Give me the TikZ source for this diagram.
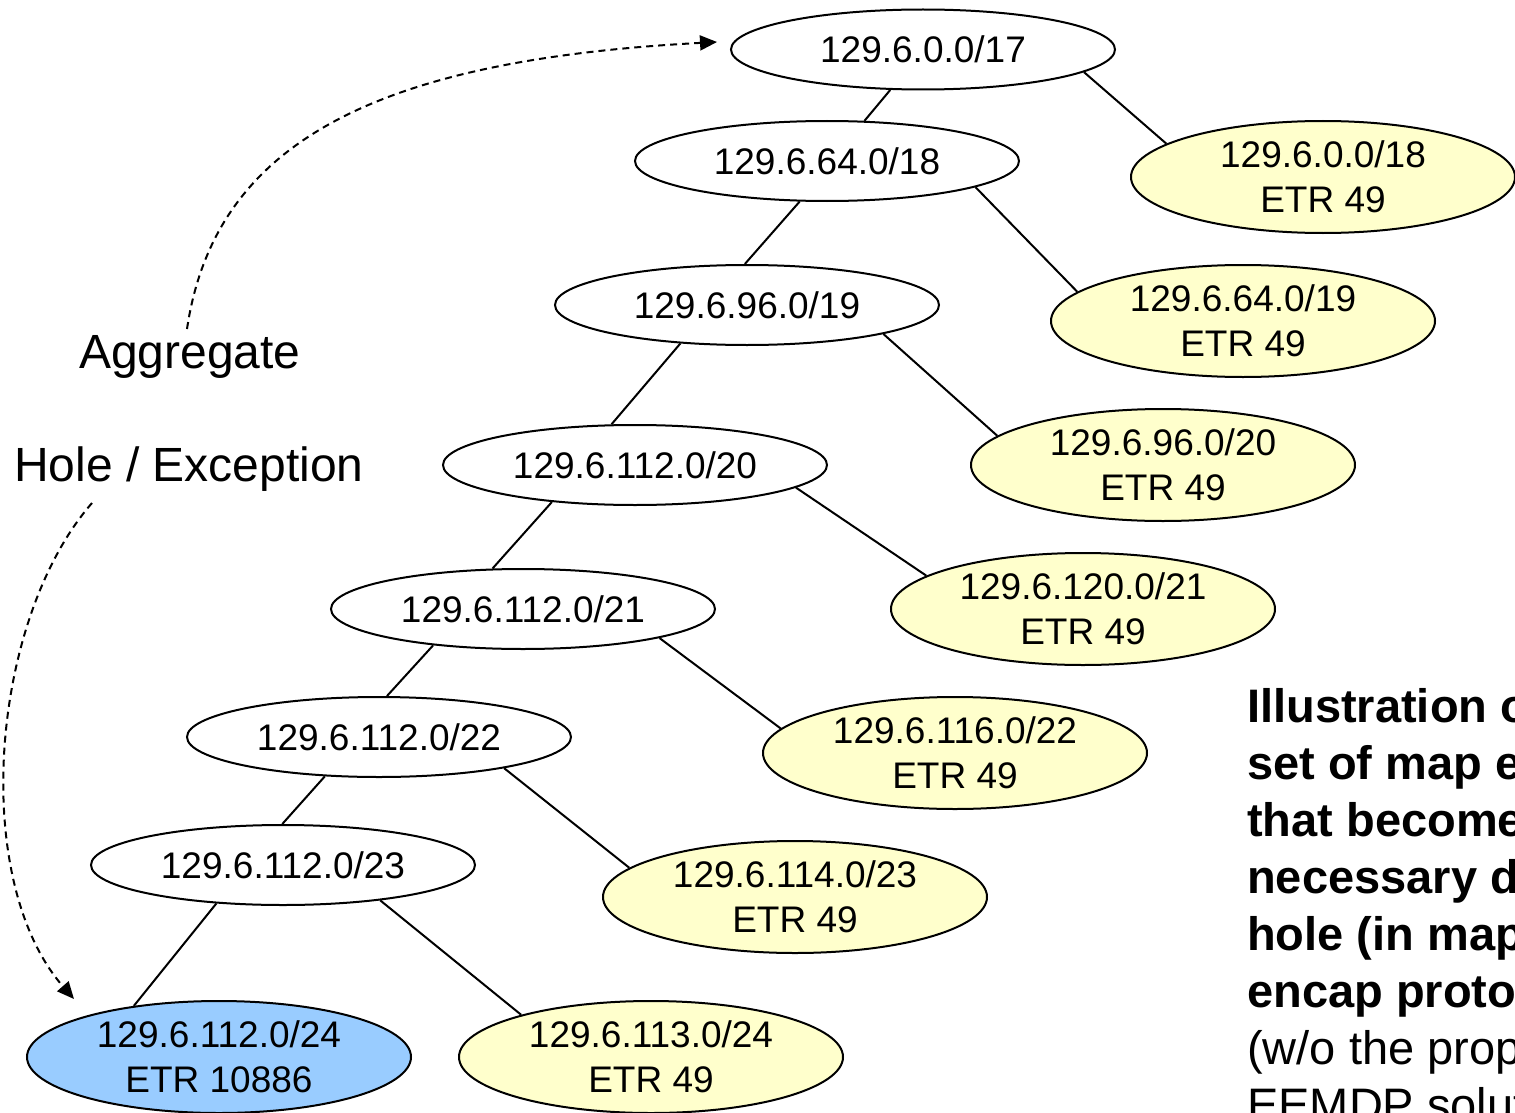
\documentclass[tikz,border=0pt]{standalone}
\usepackage{fontspec}
\setmainfont{Liberation Sans}
\usetikzlibrary{shapes.geometric,arrows.meta}
\definecolor{leafyellow}{RGB}{255,255,204}
\definecolor{holeblue}{RGB}{153,204,255}
\begin{document}
\begin{tikzpicture}[x=1pt,y=-1pt,
  prefixnode/.style={ellipse, draw, line width=2pt, inner sep=0pt,
    minimum width=384pt, minimum height=80pt,
    font=\fontsize{37}{45}\selectfont, align=center},
  leafnode/.style={prefixnode, fill=leafyellow, minimum height=112pt},
  holenode/.style={leafnode, fill=holeblue},
  treeline/.style={line width=2pt},
  ptrarrow/.style={line width=2pt, dash pattern=on 7pt off 5pt,
    -{Triangle[length=17pt,width=15pt]}},
  sidelabel/.style={anchor=base west, inner sep=0pt, font=\fontsize{48}{57}\selectfont},
  captionbold/.style={anchor=base west, inner sep=0pt, font=\fontsize{47}{57}\selectfont\bfseries},
  captionplain/.style={anchor=base west, inner sep=0pt, font=\fontsize{47}{57}\selectfont}]
\useasboundingbox (0,0) rectangle (1515,1113);
\clip (0,0) rectangle (1515,1113);

% prefix tree: covering prefixes down the left spine
\node[prefixnode] (p17) at (923,49.5) {129.6.0.0/17};
\node[prefixnode] (p18) at (827,161) {129.6.64.0/18};
\node[prefixnode] (p19) at (747,305) {129.6.96.0/19};
\node[prefixnode] (p20) at (635,465) {129.6.112.0/20};
\node[prefixnode] (p21) at (523,609) {129.6.112.0/21};
\node[prefixnode] (p22) at (379,737) {129.6.112.0/22};
\node[prefixnode] (p23) at (283,865) {129.6.112.0/23};

% map entries that have to be announced
\node[leafnode] (l18) at (1323,177) {129.6.0.0/18\\ETR 49};
\node[leafnode] (l19) at (1243,321) {129.6.64.0/19\\ETR 49};
\node[leafnode] (l20) at (1163,465) {129.6.96.0/20\\ETR 49};
\node[leafnode] (l21) at (1083,609) {129.6.120.0/21\\ETR 49};
\node[leafnode] (l22) at (955,753) {129.6.116.0/22\\ETR 49};
\node[leafnode] (l23) at (795,897) {129.6.114.0/23\\ETR 49};
\node[leafnode] (l24) at (651,1057) {129.6.113.0/24\\ETR 49};
\node[holenode] (hole) at (219,1057) {129.6.112.0/24\\ETR 10886};

% spine
\draw[treeline] (p17.-129) -- (p18.47);
\draw[treeline] (p18.-124) -- (p19.93);
\draw[treeline] (p19.-150) -- (p20.120);
\draw[treeline] (p20.-156) -- (p21.127);
\draw[treeline] (p21.-158) -- (p22.79);
\draw[treeline] (p22.-144) -- (p23.91);
\draw[treeline] (p23.-150) -- (hole.149);

% siblings
\draw[treeline] (p17.-8) -- (l18.168);
\draw[treeline] (p18.-10) -- (l19.170);
\draw[treeline] (p19.-12) -- (l20.170);
\draw[treeline] (p20.-8) -- (l21.168);
\draw[treeline] (p21.-12) -- (l22.172);
\draw[treeline] (p22.-14) -- (l23.170);
\draw[treeline] (p23.-20) -- (l24.162);

% side labels and their pointers
\node[sidelabel] (agg) at (79,368) {Aggregate};
\node[sidelabel] (exc) at (14,481) {Hole / Exception};
\coordinate (aggtail) at (187,329);
\coordinate (aggtip) at (717,42);
\coordinate (exctail) at (92,503);
\coordinate (exctip) at (74,999);
\draw[ptrarrow] (aggtail) .. controls (215,140) and (380,60) .. (aggtip);
\draw[ptrarrow] (exctail) .. controls (-10,620) and (-30,880) .. (exctip);

% explanatory text
\node[captionbold] (c1) at (1247,722) {Illustration of the};
\node[captionbold] (c2) at (1247,779.1) {set of map entries};
\node[captionbold] (c3) at (1247,836.2) {that become};
\node[captionbold] (c4) at (1247,893.3) {necessary due to};
\node[captionbold] (c5) at (1247,950.4) {hole (in map-n-};
\node[captionbold] (c6) at (1247,1007.5) {encap protocols)};
\node[captionplain] (c7) at (1247,1064.6) {(w/o the proposed};
\node[captionplain] (c8) at (1247,1121.7) {EEMDP solution)};
\end{tikzpicture}
\end{document}
